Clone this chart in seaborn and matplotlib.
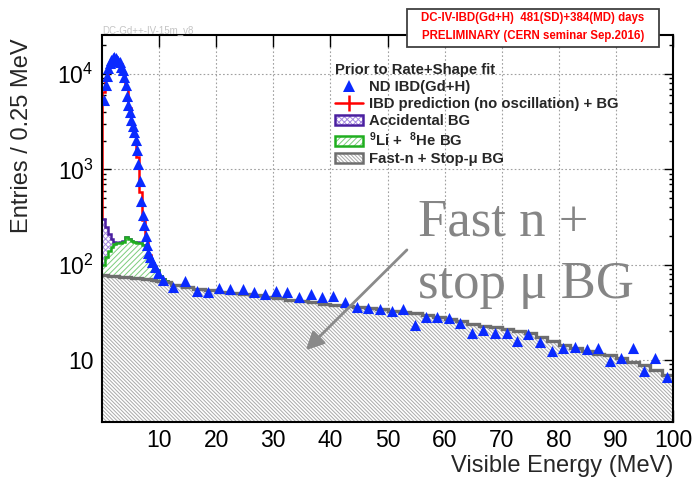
import numpy as np
import matplotlib
matplotlib.use("Agg")
import matplotlib.pyplot as plt
import seaborn as sns
from matplotlib.lines import Line2D
from matplotlib.patches import Patch, Rectangle
from matplotlib.legend_handler import HandlerTuple
from matplotlib.font_manager import FontProperties
from matplotlib.ticker import FixedLocator, FixedFormatter, LogLocator, NullFormatter, NullLocator

# ---------------- data ----------------
# ND IBD(Gd+H) candidates: fine binning around the prompt peak
peak_energy = [0.375, 0.625, 0.875, 1.125, 1.375, 1.625, 1.875, 2.125, 2.375, 2.625,
               2.875, 3.125, 3.375, 3.625, 3.875, 4.125, 4.375, 4.625, 4.875, 5.125,
               5.375, 5.625, 5.875, 6.125, 6.375, 6.625, 6.875, 7.125, 7.375, 7.625,
               7.875, 8.125, 8.375, 8.75, 9.25, 9.875, 10.75]
peak_entries = [5400, 7700, 9500, 11500, 13000, 14200, 14900, 15100, 14700, 14100,
                13700, 13300, 12000, 11000, 9300, 7600, 5900, 4700, 4000, 3300,
                2850, 2450, 2050, 1600, 1150, 750, 470, 330, 260, 200,
                160, 132, 120, 108, 95, 81, 69]

# high-energy tail, coarse binning
tail_energy = [12.4, 14.5, 16.6, 18.6, 20.5, 22.4, 24.7, 26.6, 28.5, 30.5,
               32.4, 34.5, 36.6, 38.5, 40.5, 42.6, 44.7, 46.6, 48.7, 50.8,
               52.7, 54.8, 56.7, 58.7, 60.8, 62.7, 64.8, 66.7, 68.8, 70.9,
               72.7, 74.6, 76.7, 78.8, 80.7, 82.8, 84.9, 86.9, 89.0, 90.9,
               93.0, 94.9, 96.8, 98.9]
tail_entries = [58, 68, 53, 52, 57, 56, 56, 52, 49, 53,
                52, 46, 49, 46, 47, 41, 36, 35, 34.5, 32.5,
                34.5, 23.5, 28, 28, 27.5, 24.5, 19, 20.5, 19, 19,
                15.8, 18.9, 15.6, 12.3, 13.4, 13.8, 13, 13.5, 9.8, 10.4,
                13.4, 7.6, 10.4, 6.6]

# histogram binning: 0.5 MeV below 12 MeV, 2 MeV above
edges = np.concatenate([np.arange(0, 12.01, 0.5), np.arange(14, 100.01, 2)])

fastn_low = [78, 78, 77, 77, 76, 76, 75, 75, 74, 74, 73, 73,
             72, 72, 71, 71, 70, 69, 69, 68, 68, 67, 66, 66]
fastn_high = [62, 59, 56, 54, 52, 51, 49, 48, 46, 45, 43, 42,
              41, 39, 38, 37, 36, 35, 34, 33, 32, 31, 30, 28.5,
              27, 25.5, 24, 23, 22, 21, 20, 19, 17.5, 16, 14.5, 13.5,
              12.5, 11.6, 11.3, 10.4, 9.6, 8.8, 7.9, 7.0]
li_he_low = [21, 43, 61, 78, 87, 91, 95, 100, 120, 112, 105, 99,
             99, 96, 91, 80, 48, 36, 26, 19, 9, 4, 2, 0]
accidental_low = [200, 125, 72, 33, 9, 4, 2, 1.5, 1, 1, 0.8, 0.6,
                  0.5, 0.4, 0.3, 0.2, 0.2, 0.1, 0.1, 0, 0, 0, 0, 0]
# IBD prediction (no oscillation) + BG
prediction_low = [6500, 8800, 12200, 14500, 14900, 13900, 12700, 10300, 6900, 4400, 3100, 2250,
                  1350, 580, 295, 185, 128, 105, 93, 82, 75, 70, 67, 66]

x_ticks = [10, 20, 30, 40, 50, 60, 70, 80, 90, 100]
x_ticklabels = ["10", "20", "30", "40", "50", "60", "70", "80", "90", "100"]
y_ticks = [10, 100, 1000, 10000]
y_ticklabels = ["10", r"$10^{2}$", r"$10^{3}$", r"$10^{4}$"]

# ---------------- style ----------------
sns.set_theme(style="white")
plt.rcParams["font.family"] = ["Liberation Sans", "DejaVu Sans"]
plt.rcParams["mathtext.fontset"] = "custom"
plt.rcParams["mathtext.rm"] = "Liberation Sans"
plt.rcParams["mathtext.bf"] = "Liberation Sans:bold"
plt.rcParams["mathtext.default"] = "regular"
plt.rcParams["hatch.linewidth"] = 0.7

BLUE = "#0a2aff"
RED = "#ff0000"
ACC_EDGE, ACC_HATCH = "#4a1fa0", "#a68ae0"
LI_EDGE, LI_HATCH = "#1fae1f", "#7ccc7c"
FN_EDGE, FN_HATCH = "#6e6e6e", "#a9a9a9"
ACC_PAT = "xxxxxx"
LI_PAT = "//////"
FN_PAT = "\\" * 9

W, H = 694, 483
fig = plt.figure(figsize=(W / 100, H / 100), dpi=100)
fig.patch.set_facecolor("white")
ax = fig.add_axes([102 / W, 1 - 422 / H, (673 - 102) / W, (422 - 35) / H])
ax.set_facecolor("white")
ax.set_yscale("log")
ax.set_xlim(0, 100)
ax.set_ylim(10 ** 0.35, 10 ** 4.41)

# stacked backgrounds
fastn = np.array(fastn_low + fastn_high, dtype=float)
li_he = np.array(li_he_low + [0] * len(fastn_high), dtype=float)
accid = np.array(accidental_low + [0] * len(fastn_high), dtype=float)
stack_fn = fastn
stack_li = fastn + li_he
stack_acc = stack_li + accid
base = 1e-2

ax.stairs(prediction_low, edges[:len(prediction_low) + 1], baseline=base, fill=False,
          color=RED, linewidth=1.8, zorder=1.5)

ax.stairs(stack_acc, edges, baseline=base, fill=True, facecolor="white",
          edgecolor=ACC_HATCH, hatch=ACC_PAT, linewidth=0, zorder=2.0)
ax.stairs(stack_acc, edges, baseline=None, fill=False, color=ACC_EDGE, linewidth=1.8, zorder=2.1)
ax.stairs(stack_li, edges, baseline=base, fill=True, facecolor="white",
          edgecolor=LI_HATCH, hatch=LI_PAT, linewidth=0, zorder=2.2)
ax.stairs(stack_li, edges, baseline=None, fill=False, color=LI_EDGE, linewidth=1.8, zorder=2.3)
ax.stairs(stack_fn, edges, baseline=base, fill=True, facecolor="white",
          edgecolor=FN_HATCH, hatch=FN_PAT, linewidth=0, zorder=2.4)
ax.stairs(stack_fn, edges, baseline=None, fill=False, color=FN_EDGE, linewidth=2.4, zorder=2.5)

# data points
sns.scatterplot(x=peak_energy + tail_energy, y=peak_entries + tail_entries, marker="^",
                s=64, color=BLUE, linewidth=0, ax=ax, zorder=5, legend=False)

# axes, ticks and grid
ax.xaxis.set_major_locator(FixedLocator(x_ticks))
ax.xaxis.set_major_formatter(FixedFormatter(x_ticklabels))
ax.xaxis.set_minor_locator(NullLocator())
ax.yaxis.set_major_locator(FixedLocator(y_ticks))
ax.yaxis.set_major_formatter(FixedFormatter(y_ticklabels))
ax.yaxis.set_minor_locator(LogLocator(base=10, subs=np.arange(2, 10)))
ax.yaxis.set_minor_formatter(NullFormatter())
ax.tick_params(which="both", direction="in", top=True, right=True, bottom=True, left=True,
               colors="black", width=1.0)
ax.tick_params(axis="x", which="major", length=8.5, pad=5, labelsize=16.5)
ax.tick_params(axis="y", which="major", length=6.5, pad=6, labelsize=16.5)
ax.tick_params(axis="y", which="minor", length=3.2)
ax.grid(True, which="major", color="#a0a0a0", linestyle=(0, (1.5, 2.0)), linewidth=0.8, zorder=0)
ax.set_axisbelow(True)
for sp in ax.spines.values():
    sp.set_color("black")
    sp.set_linewidth(1.5)
    sp.set_zorder(6)
ax.set_xlabel("")
ax.set_ylabel("")

fig.text(673 / W, 1 - 466 / H, "Visible Energy (MeV)", ha="right", va="center", fontsize=17)
fig.text(22 / W, 1 - 38 / H, "Entries / 0.25 MeV", rotation=90, ha="center", va="top", fontsize=17)

# legend
bold = FontProperties(family="Liberation Sans", weight="bold", size=10.7)
handles = [
    Line2D([], [], marker="^", color=BLUE, markersize=8, markeredgewidth=0, linestyle="None"),
    (Line2D([], [], color=RED, linewidth=1.8),
     Line2D([], [], marker="|", color=RED, markersize=11, markeredgewidth=1.8, linestyle="None")),
    (Patch(facecolor="white", edgecolor=ACC_HATCH, hatch=ACC_PAT, linewidth=0),
     Patch(facecolor="none", edgecolor=ACC_EDGE, linewidth=1.8)),
    (Patch(facecolor="white", edgecolor=LI_HATCH, hatch=LI_PAT, linewidth=0),
     Patch(facecolor="none", edgecolor=LI_EDGE, linewidth=1.8)),
    (Patch(facecolor="white", edgecolor=FN_HATCH, hatch=FN_PAT, linewidth=0),
     Patch(facecolor="none", edgecolor=FN_EDGE, linewidth=1.8)),
]
labels = ["ND IBD(Gd+H)", "IBD prediction (no oscillation) + BG", "Accidental BG",
          r"$^{9}$Li +  $^{8}$He BG", "Fast-n + Stop-\u03bc BG"]
leg = ax.legend(handles, labels, title="Prior to Rate+Shape fit", loc="upper left",
                bbox_to_anchor=(335 / W, 1 - 63 / H), bbox_transform=fig.transFigure,
                frameon=False, borderpad=0, borderaxespad=0, prop=bold,
                title_fontproperties=bold, alignment="left", handlelength=1.9,
                handleheight=0.7, handletextpad=0.4, labelspacing=0.2,
                handler_map={tuple: HandlerTuple(ndivide=1, pad=0)})
leg.set_zorder(7)

# annotation with arrow
fig.text(418 / W, 1 - 235 / H, "Fast n +", family="Liberation Serif", fontsize=38,
         color="#858585", ha="left", va="baseline")
fig.text(418 / W, 1 - 298 / H, "stop \u03bc BG", family="Liberation Serif", fontsize=38,
         color="#858585", ha="left", va="baseline")
ax.annotate("", xy=(35.7, 12.7), xytext=(53.4, 143), xycoords="data", textcoords="data",
            arrowprops=dict(arrowstyle="-|>,head_length=0.9,head_width=0.45",
                            color="#8a8a8a", lw=2.0, shrinkA=0, shrinkB=0), zorder=8)

# run label box and version tag
fig.text(102 / W, 1 - 30 / H, "DC-Gd++-IV-15m_v8", fontsize=7, color="#c4c4c4",
         ha="left", va="center")
fig.patches.append(Rectangle((407 / W, 1 - 47 / H), (659 - 407) / W, (47 - 9) / H,
                             transform=fig.transFigure, facecolor="white",
                             edgecolor="#404040", linewidth=1.3, zorder=10))
fig.text(533 / W, 1 - 18.5 / H, "DC-IV-IBD(Gd+H)  481(SD)+384(MD) days", fontsize=8.3,
         color=RED, weight="bold", ha="center", va="center", zorder=11)
fig.text(533 / W, 1 - 36.5 / H, "PRELIMINARY (CERN seminar Sep.2016)", fontsize=8.3,
         color=RED, weight="bold", ha="center", va="center", zorder=11)

fig.savefig("out.png", dpi=100)
